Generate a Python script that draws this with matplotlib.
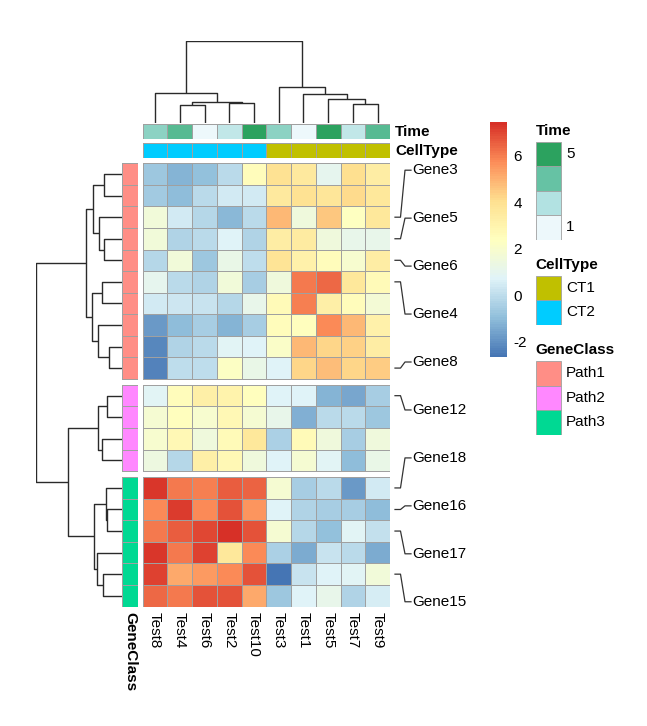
import numpy as np
import matplotlib.pyplot as plt
from matplotlib.colors import LinearSegmentedColormap, ListedColormap

plt.rcParams['font.family'] = ['Liberation Sans', 'DejaVu Sans']
plt.rcParams['axes.unicode_minus'] = False

# ---- data ----
col_labels = ["Test8", "Test4", "Test6", "Test2", "Test10",
              "Test3", "Test1", "Test5", "Test7", "Test9"]
time_values = [3, 4, 1, 2, 5, 3, 1, 5, 2, 4]
cell_types = ["CT2", "CT2", "CT2", "CT2", "CT2", "CT1", "CT1", "CT1", "CT1", "CT1"]
gene_class = ["Path1"] * 10 + ["Path2"] * 4 + ["Path3"] * 6
group_sizes = [10, 4, 6]

mark_rows = [2, 3, 4, 5, 9, 10, 14, 15, 16, 18]
mark_labels = ["Gene3", "Gene5", "Gene6", "Gene4", "Gene8",
               "Gene12", "Gene18", "Gene16", "Gene17", "Gene15"]

values = np.array([
    [-0.7, -1.2, -0.9, -0.1, 2.5, 3.9, 3.5, 1.0, 4.0, 3.3],
    [-0.55, -1.0, -0.1, 0.45, 0.45, 3.5, 3.9, 3.7, 4.1, 3.6],
    [1.6, 0.4, -0.2, -1.1, -0.05, 4.9, 1.5, 4.6, 2.3, 3.6],
    [1.6, -0.3, -0.05, 0.75, -0.25, 3.3, 3.4, 1.5, 1.1, 1.1],
    [-0.2, 1.6, -0.75, 1.2, 0.05, 3.85, 3.1, 2.55, 1.9, 3.3],
    [1.0, -0.1, -0.25, 1.6, -0.45, 1.5, 6.1, 6.4, 3.6, 2.6],
    [0.45, 0.3, 0.2, -0.15, 1.1, 2.6, 6.0, 3.25, 2.5, 1.7],
    [-1.85, -1.0, -0.45, -1.25, -0.45, 2.5, 2.4, 5.8, 4.9, 3.1],
    [-2.2, -0.3, -0.05, 0.8, 0.75, 2.1, 4.9, 4.25, 4.3, 3.3],
    [-2.3, 0.0, 0.0, 2.2, 1.2, 0.7, 4.25, 4.8, 4.2, 4.45],
    [0.8, 2.5, 3.2, 3.05, 2.4, 0.7, 0.7, -1.25, -1.5, -0.45],
    [1.8, 2.45, 1.9, 2.7, 1.8, 1.1, -1.35, -0.05, -0.05, -0.75],
    [1.9, 2.7, 1.5, 2.6, 3.6, -0.35, 2.6, 1.5, -0.45, 1.5],
    [1.4, -0.15, 3.25, 2.7, 1.5, 0.7, 1.85, 0.8, -1.0, 1.2],
    [7.3, 6.1, 6.0, 6.6, 6.45, 1.8, -0.45, -0.1, -1.85, 0.45],
    [5.75, 7.2, 5.8, 6.75, 5.6, 0.7, -0.3, -0.45, -0.5, -1.0],
    [6.1, 6.6, 7.0, 7.43, 6.75, 1.8, -0.15, -0.95, 0.8, 0.15],
    [7.3, 6.1, 7.05, 3.6, 5.8, -0.35, -1.45, 0.2, -0.1, -1.4],
    [7.1, 5.2, 5.45, 5.8, 6.8, -2.67, 0.2, 0.7, 0.8, 1.6],
    [6.4, 6.1, 6.75, 6.8, 5.2, -0.7, 0.7, 1.1, -0.3, 0.5],
])

# dendrograms as merges (left, right, height); leaves in display order
col_merges = [
    (1, 2, 18.3), (3, 4, 20.6), (10, 11, 21.6), (0, 12, 30.0),
    (8, 9, 19.3), (7, 14, 24.0), (6, 15, 29.0), (5, 16, 36.6),
    (13, 17, 82.6),
]
row_merges = [
    (0, 1, 17.7), (3, 4, 17.7), (2, 21, 22.4), (20, 22, 28.4),
    (5, 6, 20.0), (8, 9, 12.4), (7, 25, 23.4), (24, 26, 29.4),
    (23, 27, 36.0), (10, 11, 15.0), (12, 13, 19.4), (29, 30, 23.4),
    (15, 16, 14.4), (14, 32, 16.0), (18, 19, 18.4), (17, 34, 25.0),
    (33, 35, 27.4), (31, 36, 53.4), (28, 37, 86.0),
]

heat_colors = ["#4575B4", "#91BFDB", "#E0F3F8", "#FFFFBF", "#FEE090", "#FC8D59", "#D73027"]
time_colors = ["#EDF8FB", "#B2E2E2", "#66C2A4", "#2CA25F"]
cell_colors = {"CT1": "#C0C000", "CT2": "#00CCFF"}
class_colors = {"Path1": "#FF8E86", "Path2": "#FF88FF", "Path3": "#00D993"}

# ---- layout helpers ----
W, H = 647, 726
fig = plt.figure(figsize=(W / 100, H / 100), dpi=100)


def px_axes(x0, y0, x1, y1):
    ax = fig.add_axes([x0 / W, 1 - y1 / H, (x1 - x0) / W, (y1 - y0) / H])
    ax.set_axis_off()
    return ax


def draw_dendro(ax, merges, leaf_pos, top=True):
    pos = list(leaf_pos)
    hts = [0.0] * len(leaf_pos)
    for a, b, h in merges:
        xs = [pos[a], pos[a], pos[b], pos[b]]
        ys = [hts[a], h, h, hts[b]]
        if top:
            ax.plot(xs, ys, color="#2a2a2a", lw=1.0, solid_capstyle="butt")
        else:
            ax.plot(ys, xs, color="#2a2a2a", lw=1.0, solid_capstyle="butt")
        pos.append((pos[a] + pos[b]) / 2)
        hts.append(h)


border = "#A0A0A0"
bw = 0.6
cmap = LinearSegmentedColormap.from_list("rdylbu", heat_colors, N=100)
vmin, vmax = values.min(), values.max()
n_rows, n_cols = values.shape
gap = 0.28
total_h = n_rows + gap * (len(group_sizes) - 1)

HX0, HX1, HY0, HY1 = 142.7, 390, 163.3, 606.5

# row edges for each group
row_edges = []
row_centers = []
start = 0.0
for gs in group_sizes:
    row_edges.append(np.arange(gs + 1) + start)
    row_centers.extend(list(np.arange(gs) + start + 0.5))
    start += gs + gap
row_centers = np.array(row_centers)

# ---- heatmap ----
ax_hm = px_axes(HX0, HY0, HX1, HY1)
ax_hm.set_xlim(0, n_cols)
ax_hm.set_ylim(total_h, 0)
r = 0
mesh = None
for gs, edges in zip(group_sizes, row_edges):
    mesh = ax_hm.pcolormesh(np.arange(n_cols + 1), edges, values[r:r + gs],
                            cmap=cmap, vmin=vmin, vmax=vmax,
                            edgecolors=border, linewidth=bw)
    r += gs

for i, lab in enumerate(col_labels):
    ax_hm.text(i + 0.5, total_h + 0.25, lab, rotation=-90, ha="center", va="top",
               fontsize=11)

# ---- column annotations ----
ax_time = px_axes(HX0, 124.3, HX1, 139.3)
time_cmap = LinearSegmentedColormap.from_list("bugn", time_colors)
ax_time.pcolormesh(np.arange(n_cols + 1), [0, 1], [time_values], cmap=time_cmap,
                   vmin=1, vmax=5, edgecolors=border, linewidth=bw)
ax_time.set_xlim(0, n_cols)
ax_time.set_ylim(0, 1)
ax_time.text(n_cols + 0.2, 0.5, "Time", fontweight="bold", fontsize=11, va="center")

ax_ct = px_axes(HX0, 143.3, HX1, 158.3)
ct_levels = list(cell_colors)
ax_ct.pcolormesh(np.arange(n_cols + 1), [0, 1], [[ct_levels.index(c) for c in cell_types]],
                 cmap=ListedColormap([cell_colors[k] for k in ct_levels]), vmin=-0.5,
                 vmax=len(ct_levels) - 0.5, edgecolors=border, linewidth=bw)
ax_ct.set_xlim(0, n_cols)
ax_ct.set_ylim(0, 1)
ax_ct.text(n_cols + 0.2, 0.5, "CellType", fontweight="bold", fontsize=11, va="center")

# ---- row annotation ----
ax_ra = px_axes(122, HY0, 138, HY1)
cl_levels = list(class_colors)
cl_idx = np.array([cl_levels.index(c) for c in gene_class])
r = 0
for gs, edges in zip(group_sizes, row_edges):
    ax_ra.pcolormesh([0, 1], edges, cl_idx[r:r + gs, None],
                     cmap=ListedColormap([class_colors[k] for k in cl_levels]),
                     vmin=-0.5, vmax=len(cl_levels) - 0.5, edgecolors=border, linewidth=bw)
    r += gs
ax_ra.set_xlim(0, 1)
ax_ra.set_ylim(total_h, 0)
ax_ra.text(0.5, total_h + 0.25, "GeneClass", rotation=-90, ha="center", va="top",
           fontweight="bold", fontsize=11)

# ---- dendrograms ----
ax_cd = px_axes(HX0, 40.7, HX1, 123.3)
draw_dendro(ax_cd, col_merges, np.arange(n_cols) + 0.5, top=True)
ax_cd.set_xlim(0, n_cols)
ax_cd.set_ylim(0, col_merges[-1][2])

ax_rd = px_axes(35.7, HY0, 121.7, HY1)
draw_dendro(ax_rd, row_merges, row_centers, top=False)
ax_rd.set_xlim(row_merges[-1][2], 0)
ax_rd.set_ylim(total_h, 0)

# ---- marked row labels with leader lines ----
ax_mk = px_axes(HX1, HY0, 480, HY1)
ax_mk.set_xlim(0, 480 - HX1)
ax_mk.set_ylim(total_h, 0)
label_y = np.linspace(0.32, total_h - 0.22, len(mark_labels))
for ri, ly, lab in zip(mark_rows, label_y, mark_labels):
    ry = row_centers[ri]
    ax_mk.plot([5, 10.5, 15, 21], [ry, ry, ly, ly], color="#333333", lw=0.9)
    ax_mk.text(22.5, ly, lab, va="center", ha="left", fontsize=11)

# ---- colorbar ----
cax = fig.add_axes([490 / W, 1 - 357.3 / H, 16.7 / W, 235 / H])
cbar = fig.colorbar(mesh, cax=cax, ticks=[-2, 0, 2, 4, 6])
cbar.outline.set_visible(False)
cax.tick_params(length=0, pad=5, labelsize=11)

# ---- legends ----
LX0, LX1 = 535.7, 561


def legend_block(y0, title, colors, labels, label_rows):
    n = len(colors)
    y1 = y0 + 24.5 * n
    ax = px_axes(LX0, y0, 640, y1)
    ax.set_xlim(0, 640 - LX0)
    ax.set_ylim(n, 0)
    for i, c in enumerate(colors):
        ax.add_patch(plt.Rectangle((0, i), LX1 - LX0, 1, facecolor=c,
                                   edgecolor=border, lw=bw))
    for row, lab in zip(label_rows, labels):
        ax.text(LX1 - LX0 + 5, row + 0.5, lab, va="center", ha="left", fontsize=11)
    ax.text(0, -0.45, title, va="center", ha="left", fontweight="bold", fontsize=11)


legend_block(141.7, "Time", time_colors[::-1], ["5", "1"], [0, len(time_colors) - 1])
legend_block(275.7, "CellType", [cell_colors[k] for k in ct_levels], ct_levels,
             range(len(ct_levels)))
legend_block(361, "GeneClass", [class_colors[k] for k in cl_levels], cl_levels,
             range(len(cl_levels)))

fig.savefig("out.png", dpi=100)
